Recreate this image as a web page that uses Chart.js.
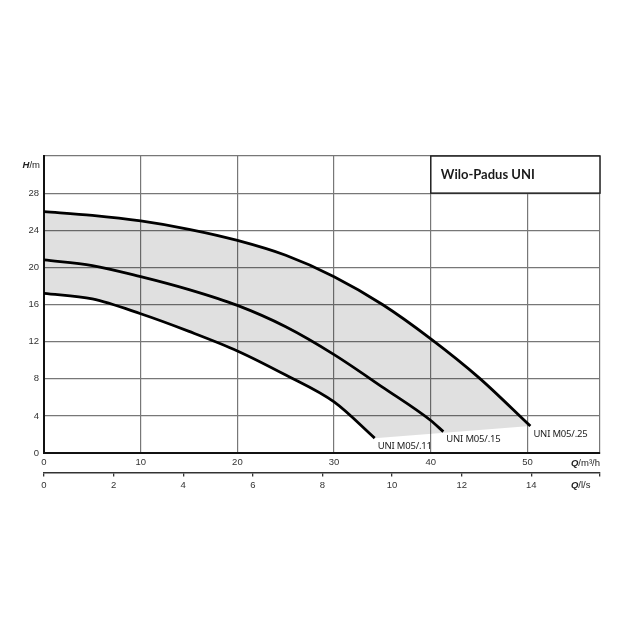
<!DOCTYPE html>
<html><head><meta charset="utf-8">
<script src="https://cdn.jsdelivr.net/npm/chart.js@4.4.0/dist/chart.umd.min.js"></script>
<style>html,body{margin:0;padding:0;background:#fff}canvas{display:block}</style>
</head><body>
<canvas id="c" width="640" height="640"></canvas>
<script>
// ---- data ----
const seriesNames = ['UNI M05/.25', 'UNI M05/.15', 'UNI M05/.11'];
const q25 = [0, 5, 10, 15, 20, 25, 30, 35, 40, 45, 50.3];
const h25 = [26.0, 25.6, 25.0, 24.1, 22.9, 21.3, 19.0, 16.0, 12.3, 8.1, 2.9];
const q15 = [0, 5, 10, 15, 20, 25, 30, 35, 40, 41.3];
const h15 = [20.8, 20.2, 19.0, 17.6, 15.9, 13.6, 10.6, 7.1, 3.5, 2.3];
const q11 = [0, 5, 10, 15, 20, 25, 30, 34.2];
const h11 = [17.2, 16.6, 15.0, 13.1, 11.0, 8.4, 5.5, 1.6];
const xTicksM3h = [0, 10, 20, 30, 40, 50];
const xTicksLs = [0, 2, 4, 6, 8, 10, 12, 14];
const yTicks = [0, 4, 8, 12, 16, 20, 24, 28];
const titleText = 'Wilo-Padus UNI';
const Q_MAX = 57.5;
const H_MAX = 32;
const LS_PER_M3H = 1 / 3.6;

const pts = (qs, hs) => qs.map((q, i) => ({x: q, y: hs[i]}));
const c25 = pts(q25, h25), c15 = pts(q15, h15), c11 = pts(q11, h11);

const curve = (label, data) => ({
  label, data, showLine: true, borderColor: '#000', borderWidth: 2.8,
  pointRadius: 0, cubicInterpolationMode: 'monotone', fill: false, borderCapStyle: 'butt'
});

// grey operating range: between the largest curve and the smallest one,
// closed by a straight edge between their end points
const rangeFill = {
  id: 'rangeFill',
  beforeDatasetsDraw(chart) {
    const ctx = chart.ctx;
    const top = chart.getDatasetMeta(0).dataset;
    const bot = chart.getDatasetMeta(2).dataset;
    top.updateControlPoints(chart.chartArea, 'x');
    bot.updateControlPoints(chart.chartArea, 'x');
    ctx.save();
    ctx.beginPath();
    ctx.rect(chart.chartArea.left, chart.chartArea.top, chart.chartArea.width, chart.chartArea.height);
    ctx.clip();
    ctx.beginPath();
    top.path(ctx);
    bot.pathSegment(ctx, bot.segments[0], {move: false, reverse: true});
    ctx.closePath();
    ctx.fillStyle = 'rgba(0,0,0,0.12)';
    ctx.fill();
    ctx.restore();
  }
};

const decor = {
  id: 'decor',
  afterDatasetsDraw(chart) {
    const ctx = chart.ctx, xs = chart.scales.x, ys = chart.scales.y, x2 = chart.scales.x2;
    ctx.save();
    // title box
    const L = xs.getPixelForValue(40), R = xs.getPixelForValue(Q_MAX);
    const T = ys.getPixelForValue(H_MAX), B = ys.getPixelForValue(28);
    ctx.fillStyle = '#fff';
    ctx.fillRect(L, T, R - L, B - T);
    ctx.strokeStyle = '#222'; ctx.lineWidth = 1.5;
    ctx.strokeRect(L, T, R - L, B - T);
    ctx.fillStyle = '#1a1a1a';
    ctx.font = 'bold 13px Lato';
    ctx.textBaseline = 'middle'; ctx.textAlign = 'left';
    ctx.fillText(titleText, L + 10, (T + B) / 2);
    // curve labels at curve ends
    ctx.font = '9.5px "Noto Sans"';
    if ('letterSpacing' in ctx) ctx.letterSpacing = '-0.2px';
    ctx.fillStyle = '#222';
    [c25, c15, c11].forEach((c, i) => {
      const e = c[c.length - 1];
      ctx.fillText(seriesNames[i], xs.getPixelForValue(e.x) + 3, ys.getPixelForValue(e.y) + 8);
    });
    if ('letterSpacing' in ctx) ctx.letterSpacing = '0px';
    // axis titles
    const mixed = (parts, x, y, align) => {
      let w = 0;
      parts.forEach(p => { ctx.font = p[1]; w += ctx.measureText(p[0]).width; });
      let cx = align === 'right' ? x - w : x;
      ctx.textAlign = 'left';
      parts.forEach(p => { ctx.font = p[1]; ctx.fillText(p[0], cx, y); cx += ctx.measureText(p[0]).width; });
      return w;
    };
    const bi = 'italic bold 9.5px "Liberation Sans"', nr = '9.5px "Liberation Sans"';
    ctx.fillStyle = '#222';
    mixed([['H', bi], ['/m', nr]], xs.left - 4, ys.top + 9, 'right');
    const wq = mixed([['Q', bi], ['/m³/h', nr]], xs.right, xs.top + 10, 'right');
    mixed([['Q', bi], ['/l/s', nr]], xs.right - wq, x2.top + 13, 'left');
    ctx.restore();
  }
};

new Chart(document.getElementById('c'), {
  type: 'scatter',
  data: {
    datasets: [
      curve(seriesNames[0], c25),
      curve(seriesNames[1], c15),
      curve(seriesNames[2], c11)
    ]
  },
  options: {
    responsive: false, animation: false, devicePixelRatio: 1,
    layout: {padding: {left: 0, top: 156, right: 40, bottom: 137.5}},
    plugins: {legend: {display: false}, tooltip: {enabled: false}},
    scales: {
      x: {
        type: 'linear', position: 'bottom', min: 0, max: Q_MAX,
        afterBuildTicks: s => { s.ticks = xTicksM3h.concat([Q_MAX]).map(v => ({value: v})); },
        ticks: {callback: v => xTicksM3h.includes(v) ? String(v) : '', autoSkip: false, maxRotation: 0,
                padding: 4, color: '#333', font: {family: 'Liberation Sans', size: 9.5}},
        grid: {color: '#777', lineWidth: 1.2, drawTicks: false},
        border: {color: '#111', width: 2},
        afterFit: s => { s.height = 19.5; }
      },
      x2: {
        type: 'linear', position: 'bottom', min: 0, max: Q_MAX * LS_PER_M3H,
        afterBuildTicks: s => { s.ticks = xTicksLs.concat([Q_MAX * LS_PER_M3H]).map(v => ({value: v})); },
        ticks: {callback: v => xTicksLs.includes(v) ? String(v) : '', autoSkip: false, maxRotation: 0,
                padding: 3, color: '#333', font: {family: 'Liberation Sans', size: 9.5}},
        grid: {drawOnChartArea: false, drawTicks: true, tickLength: 4, color: '#333', lineWidth: 1.3},
        border: {color: '#333', width: 1.5},
        afterFit: s => { s.height = 30; }
      },
      y: {
        type: 'linear', min: 0, max: H_MAX,
        afterBuildTicks: s => { s.ticks = yTicks.concat([H_MAX]).map(v => ({value: v})); },
        ticks: {callback: v => yTicks.includes(v) ? String(v) : '', padding: 5, color: '#333',
                font: {family: 'Liberation Sans', size: 9.5}},
        grid: {color: '#777', lineWidth: 1.2, drawTicks: false},
        border: {color: '#111', width: 2},
        afterFit: s => { s.width = 44; }
      }
    }
  },
  plugins: [rangeFill, decor]
});
</script>
</body></html>
